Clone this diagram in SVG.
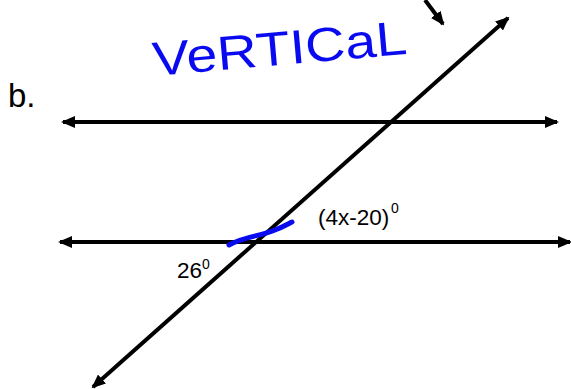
<svg xmlns="http://www.w3.org/2000/svg" width="571" height="389" viewBox="0 0 571 389">
  <style>
    .ln { stroke: #000; stroke-width: 4; fill: none; }
    .lbl { font-family: "Liberation Sans", Arial, sans-serif; fill: #000; }
    .ink { stroke: #0a0af0; stroke-width: 5; fill: none; stroke-linecap: round; stroke-linejoin: round; }
  </style>
  <defs>
    <marker id="ah" viewBox="0 0 14 12" refX="12" refY="6" markerWidth="14" markerHeight="12" markerUnits="userSpaceOnUse" orient="auto-start-reverse">
      <path d="M0,0 L14,6 L0,12 Z" fill="#000"/>
    </marker>
  </defs>
  <rect width="571" height="389" fill="#fff"/>

  <g id="label-b"><text class="lbl" x="8" y="107" font-size="33">b.</text></g>

  <g id="connectors">
    <line id="line-top" class="ln" x1="63" y1="122" x2="557" y2="122" marker-start="url(#ah)" marker-end="url(#ah)"/>
    <line id="line-bottom" class="ln" x1="60" y1="242" x2="570" y2="242" marker-start="url(#ah)" marker-end="url(#ah)"/>
    <line id="transversal" class="ln" x1="93" y1="387" x2="508" y2="18" marker-start="url(#ah)" marker-end="url(#ah)"/>
    <line id="pointer" class="ln" x1="425" y1="0" x2="443" y2="24" marker-end="url(#ah)"/>
  </g>

  <g id="angle-top">
    <text class="lbl" x="318" y="225" font-size="22.5">(4x-20)</text>
    <text class="lbl" x="391" y="213" font-size="14">0</text>
  </g>
  <g id="angle-bottom">
    <text class="lbl" x="177" y="278" font-size="22.5">26</text>
    <text class="lbl" x="202" y="269" font-size="14">0</text>
  </g>

  <g id="annotation">
    <text x="154" y="76" transform="rotate(-5 154 76)" font-family="'Liberation Sans', sans-serif" font-size="48" fill="#0a0af0" textLength="255" lengthAdjust="spacingAndGlyphs">VeRTICaL</text>
    <path class="ink" d="M229,245 C245,236 262,236 275,230 C283,227 288,224 292,222"/>
  </g>
</svg>
